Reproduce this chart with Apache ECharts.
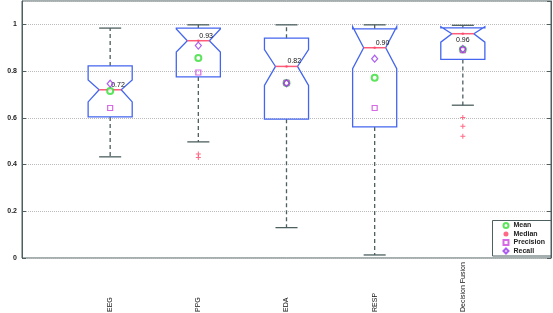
<!DOCTYPE html>
<html>
<head>
<meta charset="utf-8">
<script src="https://cdn.jsdelivr.net/npm/echarts@6/dist/echarts.min.js"></script>
<style>
html, body { margin: 0; padding: 0; background: #fff; }
#chart { width: 553px; height: 313px; }
</style>
</head>
<body>
<div id="chart"></div>
<script>
const categories = ['EEG', 'PPG', 'EDA', 'RESP', 'Decision Fusion']
const whiskerLow = [0.433, 0.497, 0.13, 0.013, 0.654]
const q1 = [0.604, 0.775, 0.594, 0.561, 0.85]
const notchLow = [0.668, 0.882, 0.739, 0.81, 0.924]
const medians = [0.72, 0.93, 0.82, 0.90, 0.96]
const notchHigh = [0.762, 0.98, 0.892, 0.99, 0.99]
const q3 = [0.822, 0.984, 0.941, 0.981, 0.985]
const whiskerHigh = [0.984, 0.998, 0.998, 0.998, 0.996]
const meanVals = [0.715, 0.856, 0.749, 0.771, 0.892]
const precisionVals = [0.642, 0.794, 0.75, 0.642, 0.89]
const recallVals = [0.746, 0.909, 0.748, 0.853, 0.895]
const outlierCat = [2, 2, 5, 5, 5]
const outlierVals = [0.445, 0.43, 0.601, 0.564, 0.521]

const axisColor = '#4d5f5f'
const boxColor = '#4466ee'
const medianColor = '#ff5a78'
const font = 'Liberation Sans'

const boxData = categories.map((c, i) => [
  i + 1, whiskerLow[i], q1[i], notchLow[i], medians[i], notchHigh[i], q3[i], whiskerHigh[i]
])

function renderBox(params, api) {
  const x = api.value(0)
  const v = k => api.value(k)
  const pt = (dx, val) => api.coord([x + dx, val])
  const hw = 0.25, nw = 0.125, cw = 0.125
  const poly = [
    pt(-hw, v(2)), pt(-hw, v(3)), pt(-nw, v(4)), pt(-hw, v(5)), pt(-hw, v(6)),
    pt(hw, v(6)), pt(hw, v(5)), pt(nw, v(4)), pt(hw, v(3)), pt(hw, v(2))
  ]
  const dash = { stroke: axisColor, lineWidth: 1.3, lineDash: [4, 3], fill: null }
  const solid = { stroke: axisColor, lineWidth: 1.3, fill: null }
  const seg = (a, b, style) => ({
    type: 'line',
    shape: { x1: a[0], y1: a[1], x2: b[0], y2: b[1] },
    style: style
  })
  const c = pt(0, v(4))
  // last box has its label under the median
  const last = params.dataIndex === categories.length - 1
  return {
    type: 'group',
    children: [
      seg(pt(0, v(6)), pt(0, v(7)), dash),
      seg(pt(0, v(2)), pt(0, v(1)), dash),
      seg(pt(-cw, v(7)), pt(cw, v(7)), solid),
      seg(pt(-cw, v(1)), pt(cw, v(1)), solid),
      {
        type: 'polygon',
        shape: { points: poly },
        style: { fill: null, stroke: boxColor, lineWidth: 1.3 }
      },
      seg(pt(-nw, v(4)), pt(nw, v(4)), { stroke: medianColor, lineWidth: 1.5 }),
      {
        type: 'text',
        x: last ? c[0] : c[0] + 1,
        y: last ? c[1] + 6 : c[1] - 5,
        style: {
          text: v(4).toFixed(2),
          fontSize: 7,
          fontFamily: font,
          fill: '#111',
          align: last ? 'center' : 'left',
          verticalAlign: 'middle'
        }
      }
    ]
  }
}

const chart = echarts.init(document.getElementById('chart'))

const option = {
  animation: false,
  backgroundColor: '#fff',
  textStyle: { fontFamily: font },
  grid: {
    left: 22, right: 2, top: 1, bottom: 55,
    outerBoundsMode: 'none',
    containLabel: false,
    show: true, borderColor: axisColor, borderWidth: 1
  },
  legend: {
    data: ['Mean', 'Median', 'Precision', 'Recall'],
    orient: 'vertical',
    right: 2,
    bottom: 57,
    itemWidth: 5,
    itemHeight: 5,
    itemGap: 0.5,
    padding: [1, 6, 1, 10],
    borderColor: axisColor,
    borderWidth: 1,
    backgroundColor: '#fff',
    textStyle: { fontSize: 7, fontWeight: 'bold', color: '#222', lineHeight: 8, padding: [0, 0, 0, 0] }
  },
  xAxis: {
    type: 'value',
    min: 0,
    max: 6,
    interval: 1,
    axisLine: { show: false },
    axisTick: { show: false },
    splitLine: { show: false },
    axisLabel: {
      rotate: 90,
      align: 'left',
      verticalAlign: 'middle',
      margin: 54,
      fontSize: 7,
      color: '#111',
      formatter: val => categories[val - 1] || ''
    }
  },
  yAxis: [
    {
      type: 'value',
      min: 0,
      max: 1.1,
      interval: 0.2,
      name: '%/100',
      nameLocation: 'middle',
      nameGap: 14,
      nameTextStyle: { fontSize: 7, fontWeight: 'bold', color: '#222' },
      axisLine: { show: true, lineStyle: { color: axisColor } },
      axisTick: { show: true, inside: true, length: 4, lineStyle: { color: axisColor } },
      axisLabel: { showMaxLabel: false, margin: 5, fontSize: 7, fontWeight: 'bold', color: '#222' },
      splitLine: { lineStyle: { type: 'dotted', color: '#bbbbbb' } }
    },
    {
      type: 'value',
      position: 'right',
      min: 0,
      max: 1.1,
      interval: 0.2,
      axisLine: { show: true, lineStyle: { color: axisColor } },
      axisTick: { show: true, inside: true, length: 4, lineStyle: { color: axisColor } },
      axisLabel: { show: false },
      splitLine: { show: false }
    }
  ],
  series: [
    {
      type: 'custom',
      renderItem: renderBox,
      data: boxData,
      encode: { x: 0, y: [1, 7] },
      z: 2
    },
    {
      name: 'Outliers',
      type: 'scatter',
      symbol: 'path://M4,0H6V4H10V6H6V10H4V6H0V4H4Z',
      symbolSize: 5,
      itemStyle: { color: '#ff4466' },
      data: outlierVals.map((val, i) => [outlierCat[i], val]),
      z: 3
    },
    {
      name: 'Median',
      type: 'scatter',
      symbol: 'circle',
      symbolSize: 2.5,
      itemStyle: { color: '#ff4466' },
      data: medians.map((val, i) => [i + 1, val]),
      z: 3
    },
    {
      name: 'Mean',
      type: 'scatter',
      symbol: 'emptyCircle',
      symbolSize: 6,
      itemStyle: { color: '#33dd33', borderWidth: 1.5 },
      data: meanVals.map((val, i) => [i + 1, val]),
      z: 4
    },
    {
      name: 'Precision',
      type: 'scatter',
      symbol: 'rect',
      symbolSize: 5,
      itemStyle: { color: 'rgba(0,0,0,0)', borderColor: '#cc44dd', borderWidth: 1.2 },
      data: precisionVals.map((val, i) => [i + 1, val]),
      z: 4
    },
    {
      name: 'Recall',
      type: 'scatter',
      symbol: 'diamond',
      symbolSize: [6, 7],
      itemStyle: { color: 'rgba(0,0,0,0)', borderColor: '#9933ee', borderWidth: 1.2 },
      data: recallVals.map((val, i) => [i + 1, val]),
      z: 5
    }
  ]
}

chart.setOption(option)
</script>
</body>
</html>
